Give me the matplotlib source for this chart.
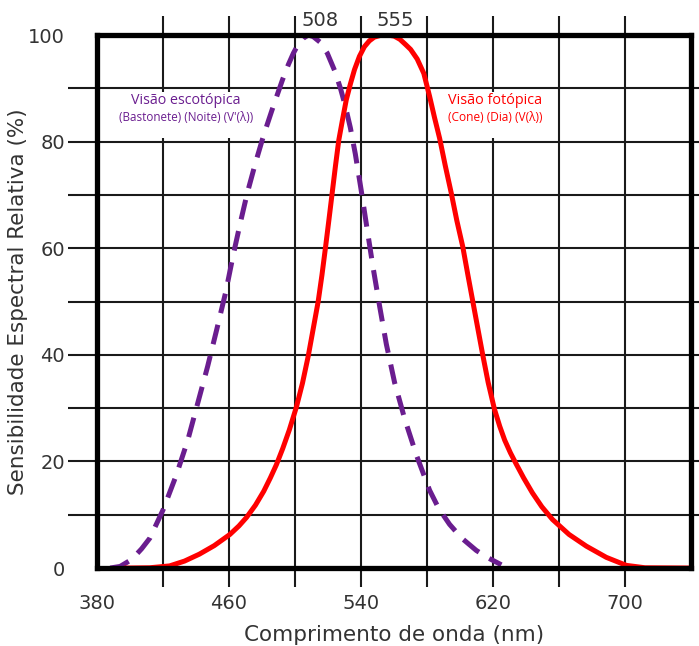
import matplotlib.pyplot as plt
import matplotlib.patches as patches

# Curva escotopica (bastonetes), leitura do grafico
sco_nm = [388, 394, 401, 407, 412, 420, 428, 435, 441, 447, 452.5, 458, 462.5,
          467, 471, 476, 480, 483, 486, 489, 492.5, 496, 499, 502, 505, 508,
          511, 515, 519.5, 524, 527.5, 530.5, 533.5, 536.5, 540, 543.2, 547.2,
          551.3, 555.3, 560.3, 566.4, 573.5, 581.5, 587, 593.6, 601, 609.8,
          617, 625]
sco_val = [0, 0.3, 1.6, 3.6, 5.6, 10.9, 17.4, 24, 30.9, 37.8, 44.7, 51.8, 58.7,
           65, 70.3, 76, 80.2, 83.1, 85.9, 88.6, 91.7, 94.5, 96.6, 98.3, 99.4,
           100, 99.7, 98.7, 96.6, 93.3, 90, 86.6, 82.6, 77.7, 71, 64.5, 56.5,
           49, 42, 34.8, 28, 21.2, 14.6, 11.2, 8.2, 5.6, 3.3, 1.9, 0.6]

# Curva fotopica (cones)
pho_nm = [398, 412, 424, 433, 442, 451, 460.5, 466, 470.6, 476, 481, 485, 488.7,
          492.5, 496.5, 500.8, 504.5, 508, 511, 514, 516.3, 518.5, 520.5, 522.5,
          524.5, 526.5, 528.8, 531, 533.5, 536, 539, 542, 545, 548, 552, 556,
          560, 563.5, 567, 570, 574, 578, 581.5, 584.5, 587.6, 591, 594.6, 598,
          601.6, 604.7, 607.7, 610.7, 613.7, 617, 620.8, 624, 627, 630.5, 634,
          638.5, 643.8, 649.5, 656, 666, 676.5, 688.6, 700.7, 712, 740]
pho_val = [0, 0.05, 0.4, 1.3, 2.6, 4.2, 6.3, 7.9, 9.5, 11.8, 14.4, 16.9, 19.4,
           22.4, 25.9, 30.2, 34.7, 39.8, 44.9, 50, 55, 60.3, 65.3, 70.4, 75.5,
           80.3, 84.2, 87.8, 90.8, 93.5, 96, 97.8, 98.9, 99.6, 99.95, 100, 99.8,
           99.2, 98.2, 97.3, 95.5, 92.8, 88.5, 84.5, 80.6, 75.5, 70.4, 65.2,
           60.3, 55, 50, 45, 40, 34.8, 29.8, 26.6, 24, 21.6, 19.5, 16.9, 14.1,
           11.5, 9.1, 6.3, 4.1, 2, 0.5, 0.05, 0]

peaks = [508, 555]
x_labels = [380, 460, 540, 620, 700]
x_minor = [420, 500, 580, 660, 740]
y_labels = [0, 20, 40, 60, 80, 100]
y_minor = [10, 30, 50, 70, 90]

purple = '#6a1d8f'
red = '#ff0000'
grid_c = '#1a1a1a'
text_c = '#333333'

fig = plt.figure(figsize=(6.99, 6.46), dpi=100)
ax = fig.add_axes([0.1388, 0.1207, 0.85, 0.8251])

ax.set_xlim(380, 740)
ax.set_ylim(0, 100)

ax.set_xticks(x_labels)
ax.set_xticks(x_minor, minor=True)
ax.set_yticks(y_labels)
ax.set_yticks(y_minor, minor=True)

ax.grid(True, which='both', color=grid_c, linewidth=1.5)
ax.set_axisbelow(True)

ax.tick_params(axis='x', which='both', direction='out', length=14, width=1.5,
               color=grid_c, top=True, bottom=True, labelsize=14,
               labelcolor=text_c, pad=5)
ax.tick_params(axis='y', which='both', direction='out', length=21, width=1.5,
               color=grid_c, left=True, right=True, labelsize=14,
               labelcolor=text_c, pad=2)
for t in ax.yaxis.get_minor_ticks() + ax.yaxis.get_major_ticks():
    t.tick2line.set_markersize(8)

# sem tracos nas extremidades
xt = ax.xaxis.get_major_ticks()
xt[0].tick1line.set_visible(False)
xt[0].tick2line.set_visible(False)
xm = ax.xaxis.get_minor_ticks()
xm[-1].tick1line.set_visible(False)
xm[-1].tick2line.set_visible(False)
yt = ax.yaxis.get_major_ticks()
for i in (0, -1):
    yt[i].tick1line.set_visible(False)
    yt[i].tick2line.set_visible(False)

for s in ax.spines.values():
    s.set_linewidth(3.8)
    s.set_color('black')
    s.set_zorder(5)

# caixas brancas atras dos textos
ax.add_patch(patches.Rectangle((384, 80.6), 108, 8.8, facecolor='white',
                               edgecolor='none', zorder=1.8))
ax.add_patch(patches.Rectangle((590, 80.6), 64, 8.8, facecolor='white',
                               edgecolor='none', zorder=1.8))

ax.plot(sco_nm, sco_val, color=purple, linewidth=3.6, dashes=(4, 2.4),
        solid_capstyle='butt', zorder=3)
ax.plot(pho_nm, pho_val, color=red, linewidth=3.6, zorder=4)

ax.text(434, 87.8, 'Visão escotópica', color=purple, fontsize=10.3,
        family='Open Sans', ha='center', va='center', zorder=6)
ax.text(434, 84.5, "(Bastonete) (Noite) (V'(λ))", color=purple, fontsize=8.4,
        family='Open Sans', ha='center', va='center', zorder=6)
ax.text(621, 87.8, 'Visão fotópica', color=red, fontsize=10.4,
        family='Open Sans', ha='center', va='center', zorder=6)
ax.text(621, 84.5, '(Cone) (Dia) (V(λ))', color=red, fontsize=8.6,
        family='Open Sans', ha='center', va='center', zorder=6)

for p, dx in zip(peaks, [7, 6]):
    ax.text(p + dx, 102.8, str(p), color=text_c, fontsize=14,
            ha='center', va='center', clip_on=False)

ax.set_xlabel('Comprimento de onda (nm)', fontsize=15.5, color=text_c,
              labelpad=8)
ax.set_ylabel('Sensibilidade Espectral Relativa (%)', fontsize=15.5,
              color=text_c, labelpad=0)

fig.savefig('out.png', dpi=100, facecolor='white')
